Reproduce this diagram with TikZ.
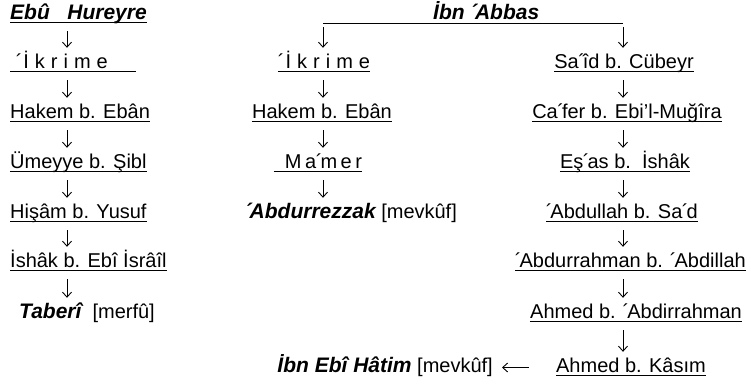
\documentclass[tikz,border=0pt]{standalone}
\usepackage{fontspec}
\setmainfont{Liberation Sans}
\usetikzlibrary{arrows.meta}

\newcommand{\fs}{\fontsize{20}{23}\selectfont}
\newcommand{\fsb}{\fontsize{21}{24}\selectfont\bfseries\itshape}
\newcommand{\spaced}[2]{{\addfontfeature{LetterSpace=#1}#2}}
\newcommand{\ayn}{\kern-0.5pt´\kern-2pt}

\tikzset{
  nm/.style={inner xsep=0pt, inner ysep=0pt, text height=14pt, text depth=5pt, font=\fs},
  src/.style={nm, font=\fsb},
  arr/.style={-{Straight Barb[length=5pt,width=9pt]}, line width=0.9pt},
  ul/.style={line width=0.9pt}
}

\begin{document}
\begin{tikzpicture}[x=1pt, y=-1pt]
  \useasboundingbox (0,0) rectangle (748,383);

  % columns where the arrows run
  \coordinate (ax) at (67,0);
  \coordinate (tl) at (323,23);
  \coordinate (tr) at (623,23);

  % left chain
  \node[src, anchor=base west] (ebu) at (10,19) {Ebû~~~Hureyre};
  \node[nm, anchor=base west] (ikr1) at (10,68) {~´\kern1pt\spaced{30}{İkrime}~~~~~~};
  \node[nm, anchor=base west] (hak1) at (10,118) {Hakem b. Ebân~};
  \node[nm, anchor=base west] (ume) at (10,168) {Ümeyye b. Şibl};
  \node[nm, anchor=base west] (his) at (10,218) {Hişâm b. Yusuf~};
  \node[nm, anchor=base west] (ish1) at (10,267) {İshâk b. Ebî İsrâîl};
  \node[nm, anchor=base west] (tab) at (19,318) {{\fsb Taberî}~~[merfû]};

  % top
  \node[src, anchor=base west] (abb) at (433,19) {İbn \ayn Abbas};
  \draw[ul] (tl) -- (tr);

  % middle chain
  \node[nm, anchor=base] (ikr2) at (324,68) {´\kern1pt\spaced{30}{İkrime}};
  \node[nm, anchor=base] (hak2) at (322,118) {Hakem b. Ebân};
  \node[nm, anchor=base] (mam) at (318,168) {~~\spaced{18}{Ma}\ayn\spaced{18}{mer}};
  \node[nm, anchor=base west] (abd) at (245,218) {{\fsb \ayn Abdurrezzak} [mevkûf]};

  % right chain
  \node[nm, anchor=base] (sai) at (624,68) {Sa\ayn îd b. Cübeyr};
  \node[nm, anchor=base] (caf) at (627,118) {Ca\ayn fer b. Ebi'l-Muğîra};
  \node[nm, anchor=base] (esa) at (625,168) {Eş\ayn as b.~~İshâk};
  \node[nm, anchor=base] (abl) at (622,218) {\ayn Abdullah b. Sa\ayn d};
  \node[nm, anchor=base east] (abr) at (746,267) {\ayn Abdurrahman b. \ayn Abdillah};
  \node[nm, anchor=base] (ahm) at (636,318) {Ahmed b. \ayn Abdirrahman};
  \node[nm, anchor=base] (kas) at (631,372) {Ahmed b. Kâsım};
  \node[nm, anchor=base east] (hat) at (493,372) {{\fsb İbn Ebî Hâtim} [mevkûf]};

  \foreach \n in {ebu,ikr1,hak1,ume,his,ish1,ikr2,hak2,mam,sai,caf,esa,abl,abr,ahm,kas}
    \draw[ul] ([yshift=-3pt]\n.base west) -- ([yshift=-3pt]\n.base east);

  % arrows
  \foreach \a/\b in {ebu/ikr1,ikr1/hak1,hak1/ume,ume/his,his/ish1,ish1/tab}
    \draw[arr, shorten <=7pt, shorten >=6pt] (\a.south -| ax) -- (\b.north -| ax);
  \draw[arr, shorten <=4pt, shorten >=6pt] (tl) -- (ikr2.north -| tl);
  \draw[arr, shorten <=4pt, shorten >=6pt] (tr) -- (sai.north -| tr);
  \foreach \a/\b in {ikr2/hak2,hak2/mam,mam/abd}
    \draw[arr, shorten <=7pt, shorten >=6pt] (\a.south -| tl) -- (\b.north -| tl);
  \foreach \a/\b in {sai/caf,caf/esa,esa/abl,abl/abr,abr/ahm,ahm/kas}
    \draw[arr, shorten <=7pt, shorten >=6pt] (\a.south -| tr) -- (\b.north -| tr);
  \draw[arr, shorten <=27pt, shorten >=9pt] (kas.west) -- (hat.east);
\end{tikzpicture}
\end{document}
